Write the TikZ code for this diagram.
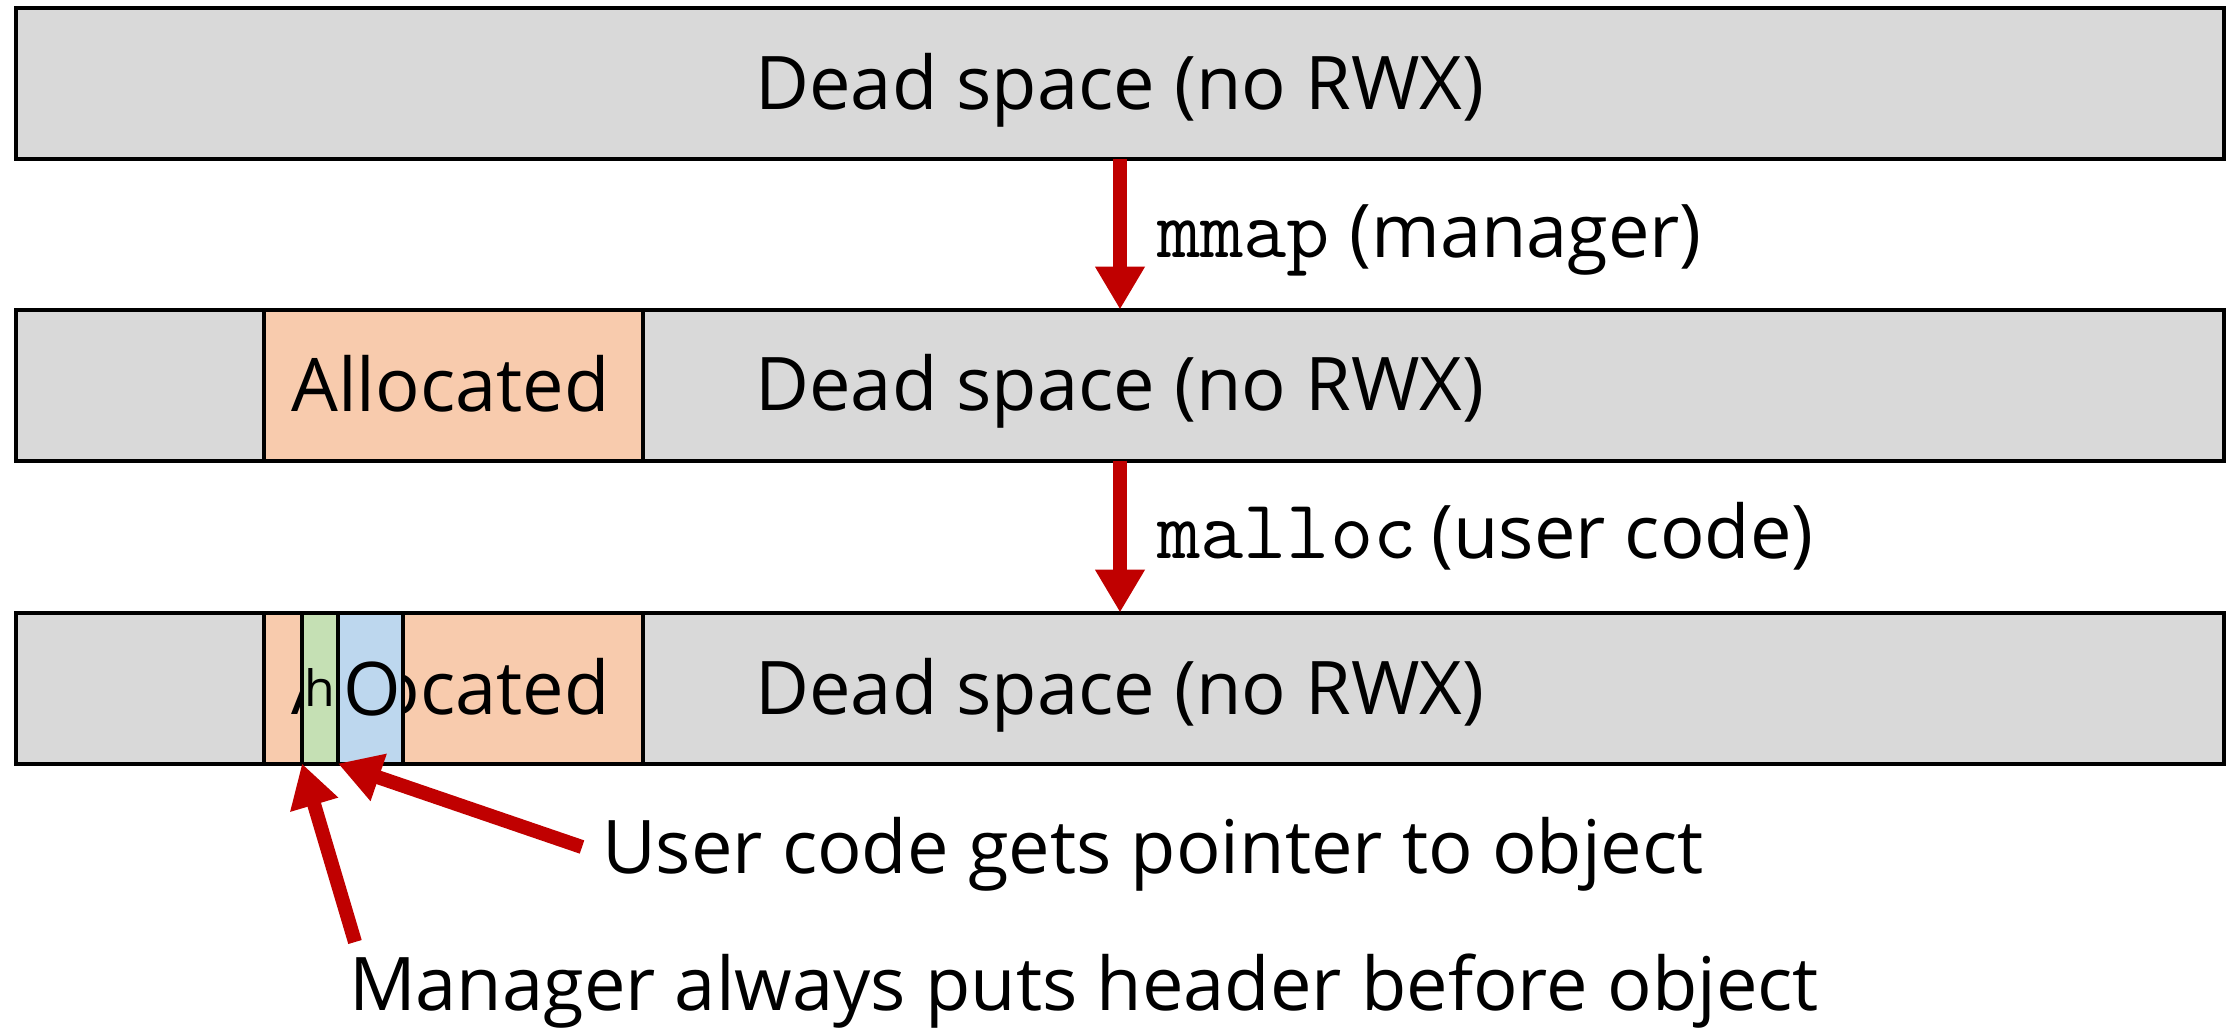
\documentclass[tikz,border=0pt]{standalone}
\usepackage{fontspec}
\setmainfont{Open Sans}
\usetikzlibrary{arrows.meta}
\definecolor{deadgray}{HTML}{D9D9D9}
\definecolor{allocor}{HTML}{F8CBAD}
\definecolor{hdrgreen}{HTML}{C5E0B4}
\definecolor{objblue}{HTML}{BDD7EE}
\definecolor{arrred}{HTML}{C00000}
\newcommand\codefont{\ttfamily\fontsize{42}{48}\selectfont}
\begin{document}
\begin{tikzpicture}[x=0.5pt,y=-0.5pt,
  box/.style={draw=black, line width=2pt, inner sep=0pt, outer sep=0pt, minimum height=75.5pt},
  rowbox/.style={box, fill=deadgray, minimum width=1104pt},
  allocbox/.style={box, fill=allocor, minimum width=189.5pt},
  lbl/.style={inner sep=0pt, outer sep=0pt, font=\fontsize{37}{44}\selectfont},
  redarr/.style={draw=arrred, line width=7pt, -{Triangle[width=23.5pt,length=21.5pt]}}
]
\useasboundingbox (0,0) rectangle (2236,1028);
% rows
\node[rowbox] (r1) at (1120,83.5) {};
\node[rowbox] (r2) at (1120,385) {};
\node[rowbox] (r3) at (1120,688) {};
\node[allocbox] (a2) at (453.5,385) {};
\node[allocbox] (a3) at (453.5,688) {};
% texts in rows
\node[lbl, anchor=base] (d1) at (1120,109) {Dead space (no RWX)};
\node[lbl, anchor=base] (d2) at (1120,410) {Dead space (no RWX)};
\node[lbl, anchor=base] (d3) at (1120,714) {Dead space (no RWX)};
\node[lbl, anchor=base] (al2) at (450.5,411) {Allocated};
\node[lbl, anchor=base] (al3) at (450.5,714) {Allocated};
% header and object
\node[box, fill=hdrgreen, minimum width=18pt] (hd) at (320,688) {};
\node[box, fill=objblue, minimum width=32.5pt] (ob) at (370.5,688) {};
\node[lbl, font=\fontsize{25}{30}\selectfont, anchor=base] (ht) at (320,706) {h};
\node[lbl, anchor=base] (ot) at (372,715) {O};
% labels
\node[lbl, anchor=base west] (m1) at (1157,257) {{\codefont mmap} (manager)};
\node[lbl, anchor=base west] (m2) at (1157,558) {{\codefont malloc}\hspace{0.2em}(user code)};
\node[lbl, anchor=base west] (u) at (602,873) {User code gets pointer to object};
\node[lbl, anchor=base west] (mg) at (349,1010) {Manager always puts header before object};
% arrows
\draw[redarr] (r1.south) -- (r2.north);
\draw[redarr] (r2.south) -- (r3.north);
\coordinate (ut) at (582,847);
\draw[redarr] (ut) -- (ob.south west);
\coordinate (mt) at (355,942);
\draw[redarr] (mt) -- (hd.south west);
\end{tikzpicture}
\end{document}
